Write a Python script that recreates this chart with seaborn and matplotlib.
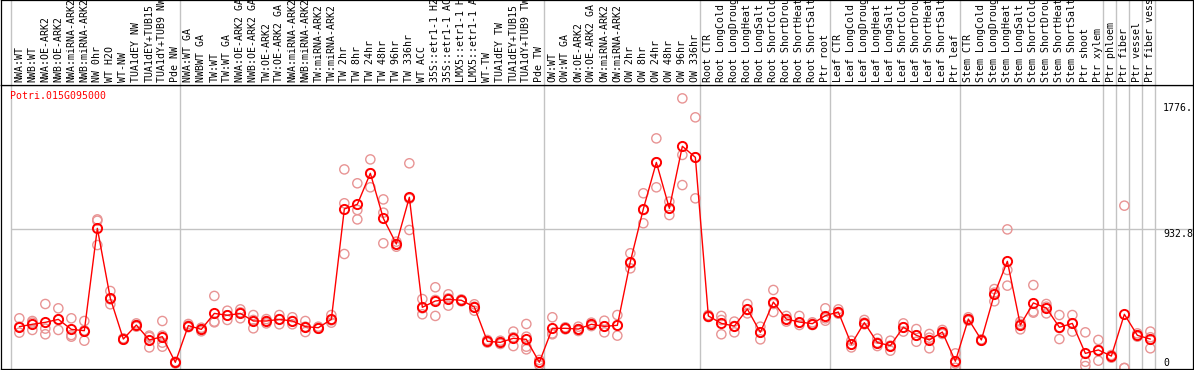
import numpy as np
import pandas as pd
import matplotlib
matplotlib.use("Agg")
import matplotlib.pyplot as plt
import seaborn as sns

# ------------------------------------------------------------
# data
# ------------------------------------------------------------
GENE = "Potri.015G095000"

labels = [
    # group 1
    "NWA:WT", "NWB:WT", "NWA:OE-ARK2", "NWB:OE-ARK2", "NWA:miRNA-ARK2",
    "NWB:miRNA-ARK2", "NW 0hr", "WT H2O", "WT-NW", "TUA1dEY NW",
    "TUA1dEY+TUB15", "TUA1dY+TUB9 NW", "Pde NW",
    # group 2
    "NWA:WT GA", "NWBWT GA", "TW:WT", "TW:WT GA", "NWA:OE-ARK2 GA",
    "NWB:OE-ARK2 GA", "TW:OE-ARK2", "TW:OE-ARK2 GA", "NWA:miRNA-ARK2",
    "NWB:miRNA-ARK2", "TW:miRNA-ARK2", "TW:miRNA-ARK2", "TW 2hr", "TW 8hr",
    "TW 24hr", "TW 48hr", "TW 96hr", "TW 336hr", "WT ACC",
    "35S::etr1-1 H2O", "35S::etr1-1 ACC", "LMX5::etr1-1 H2O",
    "LMX5::etr1-1 ACC", "WT-TW", "TUA1dEY TW", "TUA1dEY+TUB15",
    "TUA1dY+TUB9 TW", "Pde TW",
    # group 3
    "OW:WT", "OW:WT GA", "OW:OE-ARK2", "OW:OE-ARK2 GA", "OW:miRNA-ARK2",
    "OW:miRNA-ARK2", "OW 2hr", "OW 8hr", "OW 24hr", "OW 48hr", "OW 96hr",
    "OW 336hr",
    # root
    "Root CTR", "Root LongCold", "Root LongDrought", "Root LongHeat",
    "Root LongSalt", "Root ShortCold", "Root ShortDrought", "Root ShortHeat",
    "Root ShortSalt", "Ptr root",
    # leaf
    "Leaf CTR", "Leaf LongCold", "Leaf LongDrought", "Leaf LongHeat",
    "Leaf LongSalt", "Leaf ShortCold", "Leaf ShortDrought", "Leaf ShortHeat",
    "Leaf ShortSalt", "Ptr leaf",
    # stem
    "Stem CTR", "Stem LongCold", "Stem LongDrought", "Stem LongHeat",
    "Stem LongSalt", "Stem ShortCold", "Stem ShortDrought", "Stem ShortHeat",
    "Stem ShortSalt", "Ptr shoot", "Ptr xylem",
    # single columns
    "Ptr phloem", "Ptr fiber", "Ptr vessel", "Ptr fiber vessel",
]

group_sizes = [13, 28, 12, 10, 10, 11, 1, 1, 1, 1]

means = [
    277, 293, 306, 326, 259, 250, 936, 467, 194, 288, 188, 210, 38,
    284, 259, 366, 353, 366, 315, 315, 326, 315, 277, 270, 326, 1066, 1097,
    1305, 1003, 831, 1144, 407, 449, 460, 454, 409, 179, 172, 199, 192, 38,
    266, 266, 261, 293, 279, 286, 713, 1066, 1378, 1070, 1486, 1412,
    349, 299, 281, 395, 239, 442, 328, 308, 297, 351,
    375, 159, 304, 170, 150, 273, 219, 188, 241, 45,
    328, 188, 494, 715, 288, 436, 402, 273, 299, 98, 121,
    80, 360, 219, 194,
]

replicates = [
    [333, 277, 237], [315, 304, 255], [429, 264, 226], [400, 324, 255],
    [333, 221, 210], [315, 252, 183], [996, 987, 824], [516, 460, 427],
    [199, 194, 190], [299, 288, 277], [217, 208, 138], [315, 217, 170, 143],
    [42, 38, 31],
    [295, 284, 273], [270, 259, 246], [483, 311, 306], [384, 353, 322],
    [393, 373, 333], [355, 322, 266], [328, 315, 299], [355, 328, 293],
    [340, 315, 293], [315, 277, 241], [277, 270, 264], [355, 319, 304],
    [1331, 1104, 764], [1238, 1059, 996], [1398, 1305, 1211],
    [1130, 1041, 836], [847, 831, 813], [1372, 1135, 925], [462, 400, 360],
    [541, 456, 349], [494, 467, 418], [460, 454, 447], [427, 411, 384],
    [188, 179, 170], [183, 172, 161], [244, 206, 147], [295, 210, 143, 125],
    [54, 38, 20],
    [340, 232, 226], [273, 266, 259], [277, 261, 248], [304, 293, 281],
    [317, 279, 239], [355, 286, 217], [769, 701, 668], [1171, 1059, 970],
    [1539, 1378, 1211], [1115, 1070, 1025], [1807, 1428, 1226],
    [1680, 1412, 1137],
    [355, 349, 342], [349, 322, 226], [311, 281, 239], [429, 389, 366],
    [277, 239, 192], [523, 429, 375], [349, 328, 311], [349, 304, 288],
    [306, 297, 288], [400, 333, 317],
    [393, 375, 364], [183, 159, 138], [322, 304, 293], [197, 170, 147],
    [183, 150, 116], [299, 273, 244], [261, 219, 176], [228, 203, 132],
    [255, 241, 228], [98, 31, 2],
    [340, 328, 317], [192, 188, 183], [529, 505, 447], [929, 657, 552],
    [311, 295, 259], [556, 378, 371], [429, 411, 366], [355, 268, 194],
    [355, 299, 244], [239, 42, 13], [188, 121, 49],
    [87, 80, 69], [1088, 0, 0], [232, 219, 210], [244, 206, 132],
]

grid_value = 932.8
tick_values = [1776, 932.8, 0]
tick_texts = ["1776.", "932.8", "0"]

# ------------------------------------------------------------
# tables for seaborn
# ------------------------------------------------------------
pos = np.arange(len(labels))
mean_df = pd.DataFrame({"sample": pos, "value": means})
rep_df = pd.DataFrame(
    [(i, v) for i, reps in enumerate(replicates) for v in reps],
    columns=["sample", "value"],
)

RED = "#FF0000"
PINK = "#E89494"
GREY = "#C3C3C3"

sns.set_style("white")
plt.rcParams["font.family"] = ["DejaVu Sans Mono"]

W, H = 1194, 370
fig = plt.figure(figsize=(W / 100, H / 100), dpi=100)
ax = fig.add_axes([1 / W, 1 / H, 1192 / W, 284 / H])
ax_lab = fig.add_axes([1 / W, 285 / H, 1192 / W, 85 / H], sharex=ax)

xmin, xmax = -1.41, 90.28
ax.set_xlim(xmin, xmax)
ax.set_ylim(-6.7, 1896.7)
ax_lab.set_ylim(0, 1)

# group separators (full height, both panels)
bounds = np.cumsum([0] + group_sizes) - 0.64
for b in bounds:
    ax.axvline(b, color=GREY, lw=1.0, zorder=0)
    ax_lab.axvline(b, color=GREY, lw=1.0, zorder=0)
ax.hlines(grid_value, bounds[0], xmax, color=GREY, lw=1.0, zorder=0)

# replicates then mean line
sns.scatterplot(data=rep_df, x="sample", y="value", ax=ax, marker="o", s=44,
                facecolors="none", edgecolors=PINK, linewidths=1.0, zorder=2)
sns.lineplot(data=mean_df, x="sample", y="value", ax=ax, color=RED, lw=1.0,
             errorbar=None, marker="o", markersize=6.6, markerfacecolor="none",
             markeredgecolor=RED, markeredgewidth=1.4, zorder=3)

# right-hand value labels
trans = matplotlib.transforms.blended_transform_factory(ax.transAxes, ax.transData)
xt = (1163 - 1) / 1192
for val, txt in zip(tick_values, tick_texts):
    ax.text(xt, val, txt, transform=trans, fontsize=7.1, color="black",
            ha="left", va="bottom" if val == 0 else "top")

ax.text(9 / 1192, 1 - 6 / 284, GENE, transform=ax.transAxes, color=RED,
        fontsize=7.1, ha="left", va="top")

# column labels
for i, lab in enumerate(labels):
    ax_lab.text(i, 3 / 85, lab, rotation=90, ha="center", va="bottom",
                fontsize=7.1, color="black", clip_on=True)

for a in (ax, ax_lab):
    a.set_xticks([])
    a.set_yticks([])
    a.set_xlabel("")
    a.set_ylabel("")
    for s in a.spines.values():
        s.set_color("black")
        s.set_linewidth(0.9)
        s.set_visible(True)

fig.savefig("out.png", dpi=100, facecolor="white")
